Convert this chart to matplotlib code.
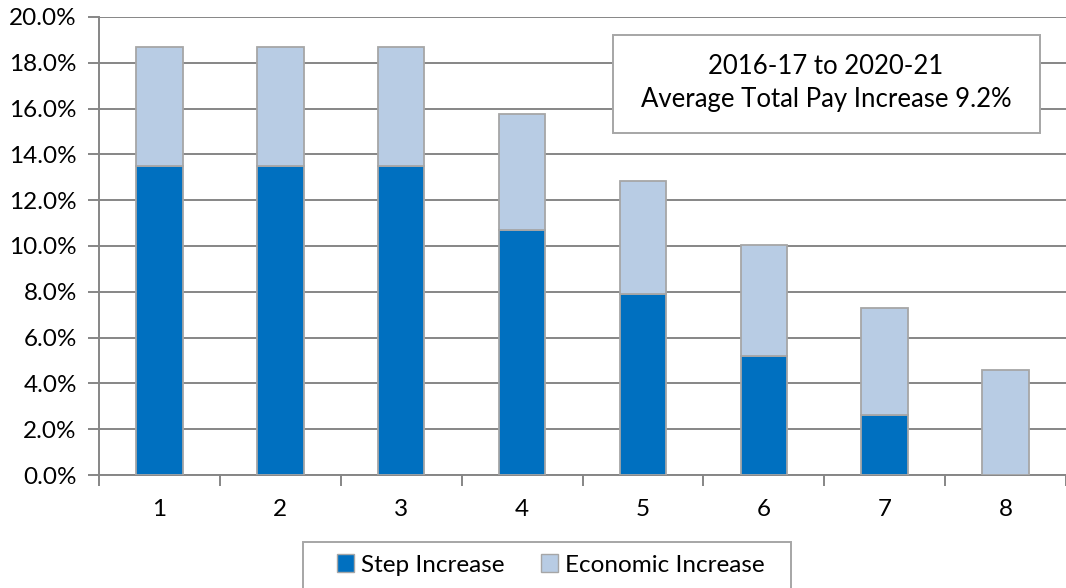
import numpy as np
import matplotlib
matplotlib.use("Agg")
import matplotlib.pyplot as plt
from matplotlib.patches import Patch, Rectangle
from matplotlib.ticker import FuncFormatter, FixedLocator

# values (percent)
steps = ["1", "2", "3", "4", "5", "6", "7", "8"]
step_increase = [13.5, 13.5, 13.5, 10.7, 7.9, 5.2, 2.6, 0.0]
economic_increase = [5.2, 5.2, 5.2, 5.05, 4.95, 4.85, 4.7, 4.6]

plt.rcParams["font.family"] = ["Lato", "DejaVu Sans"]

W, H = 1066, 588
fig = plt.figure(figsize=(W / 100, H / 100), dpi=100)
ax = fig.add_axes([99 / W, 1 - 475 / H, (W - 99) / W, (475 - 17) / H])

x = np.arange(len(steps))
w = 0.385
edge = "#A6A6A6"
ax.bar(x, step_increase, w, color="#0070C0", edgecolor=edge, lw=1.3, zorder=3,
       label="Step Increase")
ax.bar(x, economic_increase, w, bottom=step_increase, color="#B8CCE4",
       edgecolor=edge, lw=1.3, zorder=3, label="Economic Increase")

ax.set_xlim(-0.5, len(steps) - 0.5)
ax.set_ylim(0, 20)
ax.set_yticks(np.arange(0, 20.1, 2))
ax.yaxis.set_major_formatter(FuncFormatter(lambda v, p: f"{v:.1f}%"))
ax.set_xticks(x)
ax.set_xticklabels(steps)
ax.xaxis.set_minor_locator(FixedLocator(np.arange(-0.5, len(steps), 1)))

ax.grid(axis="y", color="#868686", lw=1.4, zorder=0)
for s in ["top", "right"]:
    ax.spines[s].set_visible(False)
for s in ["left", "bottom"]:
    ax.spines[s].set_color("#868686")
    ax.spines[s].set_linewidth(1.4)

ax.tick_params(axis="y", length=8, width=1.4, color="#868686", labelsize=17.5,
               pad=8, labelcolor="black")
ax.tick_params(axis="x", which="major", length=0, labelsize=17.5, pad=17,
               labelcolor="black")
ax.tick_params(axis="x", which="minor", length=8, width=1.4, color="#868686")

# annotation box
fig.patches.append(Rectangle((613 / W, 1 - 133 / H), (1040 - 613) / W, (133 - 35) / H,
                             transform=fig.transFigure, fc="white", ec="#A6A6A6",
                             lw=1.4, zorder=5))
fig.text(826 / W, 1 - 66 / H, "2016-17 to 2020-21", ha="center", va="center",
         fontsize=18.5, zorder=6)
fig.text(826 / W, 1 - 100 / H, "Average Total Pay Increase 9.2%", ha="center",
         va="center", fontsize=18.5, zorder=6)

# legend
fig.patches.append(Rectangle((303 / W, -0.01), (791 - 303) / W, (H - 542) / H + 0.01,
                             transform=fig.transFigure, fc="white", ec="#A6A6A6",
                             lw=1.4, zorder=1))
handles = [Patch(facecolor="#0070C0", edgecolor=edge, label="Step Increase"),
           Patch(facecolor="#B8CCE4", edgecolor=edge, label="Economic Increase")]
leg = fig.legend(handles=handles, loc="center", bbox_to_anchor=(551 / W, 1 - 565 / H),
                 ncol=2, fontsize=17.5, frameon=False,
                 handlelength=0.7, handleheight=0.7, handletextpad=0.3,
                 columnspacing=1.5, borderpad=0.2)
leg.set_zorder(3)

fig.savefig("out.png", dpi=100, facecolor="white")
